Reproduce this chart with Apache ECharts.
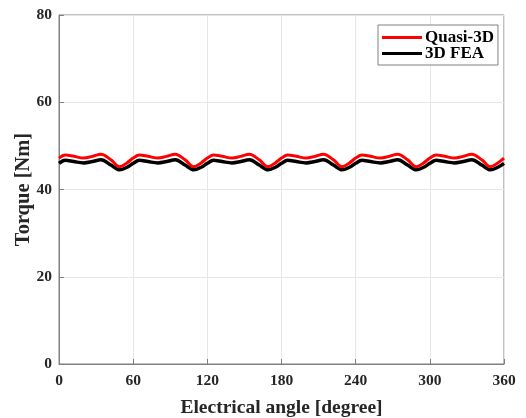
<!DOCTYPE html>
<html>
<head>
<meta charset="utf-8">
<script src="https://cdn.jsdelivr.net/npm/echarts@6/dist/echarts.min.js"></script>
<style>html,body{margin:0;padding:0;background:#fff;}#c{width:526px;height:418px;}</style>
</head>
<body>
<div id="c"></div>
<script>
var angles = [0,5,12,20,27,34,42,49,55, 60,65,72,80,87,94,102,109,115, 120,125,132,140,147,154,162,169,175, 180,185,192,200,207,214,222,229,235, 240,245,252,260,267,274,282,289,295, 300,305,312,320,327,334,342,349,355, 360];
var quasi3D = [47.2,47.9,47.6,47.2,47.6,48.1,46.8,45.2,46.1, 47.2,47.9,47.6,47.2,47.6,48.1,46.8,45.2,46.1, 47.2,47.9,47.6,47.2,47.6,48.1,46.8,45.2,46.1, 47.2,47.9,47.6,47.2,47.6,48.1,46.8,45.2,46.1, 47.2,47.9,47.6,47.2,47.6,48.1,46.8,45.2,46.1, 47.2,47.9,47.6,47.2,47.6,48.1,46.8,45.2,46.1, 47.2];
var fea3D = [46.0,46.7,46.4,46.1,46.4,46.8,45.6,44.5,45.1, 46.0,46.7,46.4,46.1,46.4,46.8,45.6,44.5,45.1, 46.0,46.7,46.4,46.1,46.4,46.8,45.6,44.5,45.1, 46.0,46.7,46.4,46.1,46.4,46.8,45.6,44.5,45.1, 46.0,46.7,46.4,46.1,46.4,46.8,45.6,44.5,45.1, 46.0,46.7,46.4,46.1,46.4,46.8,45.6,44.5,45.1, 46.0];
var xTicks = [0,60,120,180,240,300,360];
var yTicks = [0,20,40,60,80];

function pairs(xs, ys){ return xs.map(function(x,i){ return [x, ys[i]]; }); }

var font = 'Liberation Serif';
var chart = echarts.init(document.getElementById('c'));
chart.setOption({
  animation: false,
  backgroundColor: '#fff',
  grid: { left: 59, right: 22, top: 15, bottom: 54, outerBoundsMode: 'none', containLabel: false,
    show: true, borderColor: '#808080', borderWidth: 1, backgroundColor: 'transparent' },
  legend: {
    orient: 'vertical', left: 378, top: 25,
    padding: [4, 4, 3, 4],
    itemWidth: 40, itemHeight: 3, itemGap: -1,
    borderColor: '#808080', borderWidth: 1, backgroundColor: '#fff',
    textStyle: { fontFamily: font, fontWeight: 'bold', fontSize: 17, lineHeight: 14, color: '#000', padding: [0,0,0,-2] },
    data: [
      { name: 'Quasi-3D', icon: 'rect', itemStyle: { color: '#ff0000' } },
      { name: '3D FEA', icon: 'rect', itemStyle: { color: '#000000' } }
    ]
  },
  xAxis: {
    type: 'value', min: 0, max: 360, interval: 60,
    name: 'Electrical angle [degree]', nameLocation: 'middle', nameGap: 34,
    nameTextStyle: { fontFamily: font, fontWeight: 'bold', fontSize: 19.5, color: '#262626' },
    axisLine: { show: true, lineStyle: { color: '#808080' } },
    axisTick: { show: true, inside: true, length: 5, lineStyle: { color: '#808080' } },
    axisLabel: { fontFamily: font, fontWeight: 'bold', fontSize: 15.5, color: '#262626', margin: 9,
      formatter: function(v){ return xTicks.indexOf(v) >= 0 ? String(v) : ''; } },
    splitLine: { show: true, lineStyle: { color: '#e6e6e6' } }
  },
  yAxis: {
    type: 'value', min: 0, max: 80, interval: 20,
    name: 'Torque [Nm]', nameLocation: 'middle', nameGap: 25, nameMoveOverlap: false,
    nameTextStyle: { fontFamily: font, fontWeight: 'bold', fontSize: 20.5, color: '#262626' },
    axisLine: { show: true, lineStyle: { color: '#808080' } },
    axisTick: { show: true, inside: true, length: 5, lineStyle: { color: '#808080' } },
    axisLabel: { fontFamily: font, fontWeight: 'bold', fontSize: 15.5, color: '#262626', margin: 7,
      formatter: function(v){ return yTicks.indexOf(v) >= 0 ? String(v) : ''; } },
    splitLine: { show: true, lineStyle: { color: '#e6e6e6' } }
  },
  series: [
    { name: '3D FEA', type: 'line', data: pairs(angles, fea3D), smooth: 0.35, symbol: 'none',
      lineStyle: { color: '#000', width: 3.5 }, itemStyle: { color: '#000' }, z: 2 },
    { name: 'Quasi-3D', type: 'line', data: pairs(angles, quasi3D), smooth: 0.35, symbol: 'none',
      lineStyle: { color: '#ff0000', width: 3 }, itemStyle: { color: '#ff0000' }, z: 3 }
  ]
});
</script>
</body>
</html>
